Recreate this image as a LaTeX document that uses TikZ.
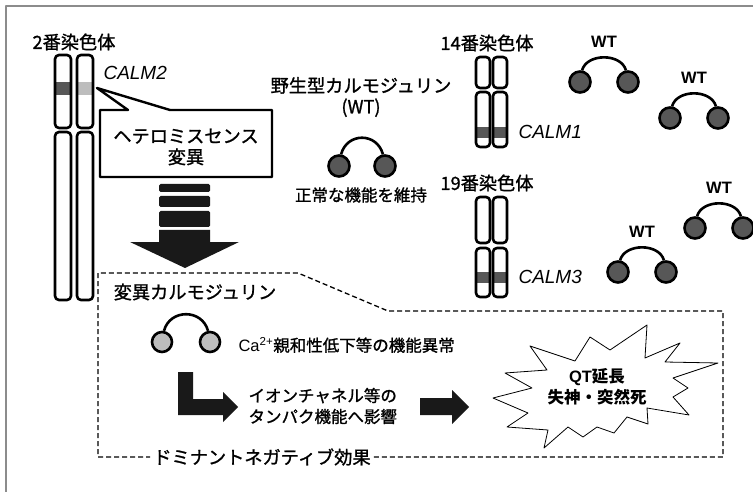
\documentclass[tikz,border=0pt]{standalone}
\usepackage{fontspec}
\setmainfont{Noto Sans CJK JP}[UprightFeatures={FakeBold=1.2}, BoldFeatures={FakeBold=0}]
\newfontfamily\latin{Liberation Sans}

\definecolor{lobedark}{gray}{0.34}
\definecolor{lobelight}{gray}{0.74}
\definecolor{framegray}{gray}{0.55}

\begin{document}
\begin{tikzpicture}
        [x=1pt, y=-1pt, line join=round,
         big/.style={font=\fontsize{18.2}{21}\selectfont},
         small/.style={font=\fontsize{16.5}{21}\selectfont},
         heavy/.style={font=\fontsize{16.5}{21}\selectfont\bfseries},
         gene/.style={anchor=west, font=\fontsize{19}{21}\selectfont\latin\itshape},
         wt/.style={font=\fontsize{16.5}{20}\selectfont\latin\bfseries},
         chrom/.style={line width=2.6pt, rounded corners=4pt},
         lobe/.style={circle, draw=black, line width=2.6pt, minimum size=21pt, inner sep=0pt},
         link/.style={line width=2.6pt},
         block/.style={fill=black!90}]

        \useasboundingbox (0,0) rectangle (753,492);
        \draw[framegray, line width=1.5pt] (6,500) -- (6,6) -- (760,6);

        % chromosome 2 with the CALM2 band
        \fill[lobedark] (55,82) rectangle (71,95);
        \fill[lobelight] (77,82) rectangle (93,95);
        \foreach \x in {55,77} {
            \draw[chrom] (\x,55) rectangle (\x+16,128);
            \draw[chrom] (\x,132) rectangle (\x+16,300);
        }

        % chromosomes 14 and 19
        \foreach \x in {476,493} {
            \fill[lobedark] (\x,127) rectangle (\x+14,138);
            \draw[chrom] (\x,57) rectangle (\x+14,88);
            \draw[chrom] (\x,92) rectangle (\x+14,147);
            \fill[lobedark] (\x,272) rectangle (\x+14,283);
            \draw[chrom] (\x,197) rectangle (\x+14,243);
            \draw[chrom] (\x,248) rectangle (\x+14,297);
        }

        \node[big] (chr2) at (74,42) {2番染色体};
        \node[gene] (calm2) at (100,73) {CALM2};
        \node[big] (chr14) at (487,43) {14番染色体};
        \node[gene] (calm1) at (515,132) {CALM1};
        \node[big] (chr19) at (487,183) {19番染色体};
        \node[gene] (calm3) at (515,277) {CALM3};

        % speech bubble
        \draw[line width=2.4pt, fill=white] (100,110) -- (128,110) -- (97,88) -- (170,110)
            -- (272,110) -- (272,177) -- (100,177) -- cycle;
        \node[big, align=center] (missense) at (186,147) {ヘテロミスセンス\\変異};

        % stacked bars and the big arrow
        \foreach \a/\b in {184/192, 196/207, 211/227}
        \fill[block, rounded corners=1.5pt] (159,\a) rectangle (210,\b);
        \fill[block] (159,230) -- (210,230) -- (210,242) -- (239,242) -- (185,268)
            -- (130,242) -- (159,242) -- cycle;

        % wild type calmodulin (y points down, so the arcs bend at negative angles)
        \node[big, align=center] (wt-name) at (361,97) {野生型カルモジュリン\\(WT)};
        \node[lobe, fill=lobedark] (wt0-l) at (339,166) {};
        \node[lobe, fill=lobedark] (wt0-r) at (385,166) {};
        \draw[link] (wt0-l.80) .. controls +(-75:23) and +(-105:23) .. (wt0-r.100);
        \node[small] (normal) at (361,195) {正常な機能を維持};

        \foreach \n/\x/\y in {1/604/82, 2/694/118, 3/719/228, 4/642/272} {
            \node[lobe, fill=lobedark] (wt\n-l) at (\x-24,\y) {};
            \node[lobe, fill=lobedark] (wt\n-r) at (\x+24,\y) {};
            \draw[link] (wt\n-l.80) .. controls +(-75:18) and +(-105:18) .. (wt\n-r.100);
            \node[wt] (wt\n-name) at (\x,\y-40) {WT};
        }

        % dominant negative region
        \node[big, fill=white, inner sep=3pt] (dn) at (262,457) {ドミナントネガティブ効果};
        \draw[dashed, line width=1.3pt, dash pattern=on 5pt off 3pt] (dn.east) -- (723,457)
            -- (723,311) -- (388,311) -- (298,273) -- (98,273) -- (98,457) -- (dn.west);
        \node[big] (mut-name) at (195,292) {変異カルモジュリン};

        \node[lobe, fill=lobelight, minimum size=20pt] (mut-l) at (162,342) {};
        \node[lobe, fill=lobelight, minimum size=20pt] (mut-r) at (210,342) {};
        \draw[link] (mut-l.80) .. controls +(-75:23) and +(-105:23) .. (mut-r.100);
        \node[small, anchor=west] (ca) at (235,345) {{\latin Ca\textsuperscript{2+}}親和性低下等の機能異常};

        \fill[block] (178,372) -- (193,372) -- (193,399) -- (223,399) -- (223,392) -- (238,407)
            -- (223,422) -- (223,415) -- (178,415) -- cycle;
        \node[small, anchor=west, align=left] (ion) at (245,406) {イオンチャネル等の\\タンパク機能へ影響};

        \fill[block] (420,398) -- (452,398) -- (452,390) -- (469,407) -- (452,424) -- (452,415)
            -- (420,415) -- cycle;

        % starburst
        \draw[line width=0.8pt, fill=white] (647,325) -- (645,358) -- (680,343) -- (665,362)
            -- (718,363) -- (673,378) -- (688,388) -- (673,397) -- (689,415) -- (647,408)
            -- (648,424) -- (627,417) -- (614,433) -- (597,427) -- (583,437) -- (568,427)
            -- (544,448) -- (548,430) -- (507,427) -- (528,413) -- (493,398) -- (532,388)
            -- (505,373) -- (547,370) -- (530,346) -- (575,361) -- (590,337) -- (610,350) -- cycle;
        \node[heavy, align=center] (qt) at (597,387) {{\latin QT}延長\\失神・突然死};

    \end{tikzpicture}
\end{document}
